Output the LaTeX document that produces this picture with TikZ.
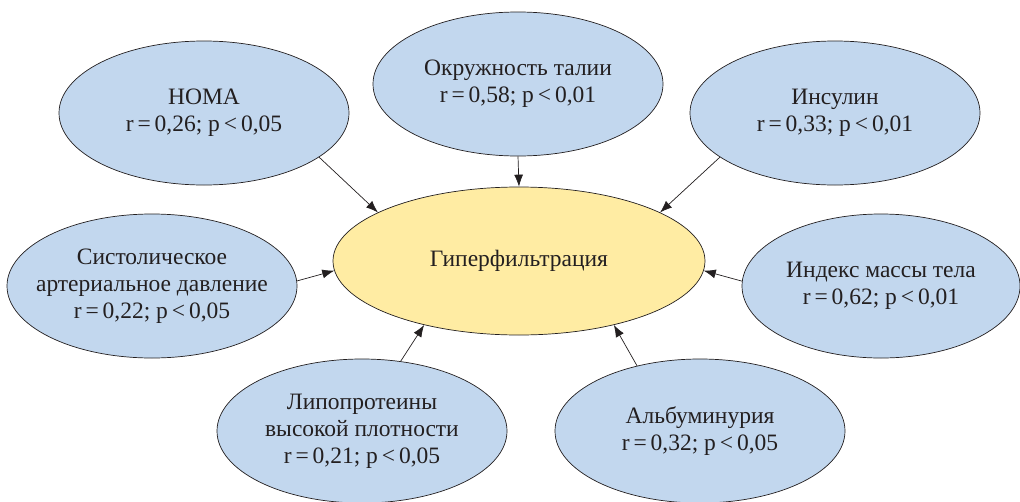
\documentclass[tikz,border=0pt]{standalone}
\usepackage{fontspec}
\setmainfont{Liberation Serif}
\usetikzlibrary{shapes.geometric,arrows.meta}
\definecolor{bluefill}{HTML}{C2D7EE}
\definecolor{yellowfill}{HTML}{FFECA3}
\definecolor{inkc}{HTML}{231F20}
\tikzset{
  factor/.style={ellipse, draw=inkc, line width=0.7pt, fill=bluefill, inner sep=0pt,
    minimum width=290pt, minimum height=144pt, align=center, text=inkc,
    font=\fontsize{23.5}{27}\selectfont},
  hub/.style={factor, fill=yellowfill, minimum width=372pt, minimum height=148pt},
  link/.style={draw=inkc, line width=0.7pt, -{Latex[length=12pt,width=9pt]}}
}
\newcommand{\rp}[2]{r\,=\,#1; p\,<\,#2}
\begin{document}
\begin{tikzpicture}[x=1pt,y=-1pt]
\useasboundingbox (0,0) rectangle (1020,501);
\clip (0,0) rectangle (1020,501);
\node[hub] (hyp) at (519,261) {Гиперфильтрация};
\node[factor] (homa) at (204,113) {HOMA\\\rp{0,26}{0,05}};
\node[factor] (waist) at (518,84) {Окружность талии\\\rp{0,58}{0,01}};
\node[factor] (ins) at (835,113) {Инсулин\\\rp{0,33}{0,01}};
\node[factor, inner xsep=-25pt] (sys) at (152,286) {Систолическое\\артериальное давление\\\rp{0,22}{0,05}};
\node[factor, minimum width=278pt] (bmi) at (881,286) {Индекс массы тела\\\rp{0,62}{0,01}};
\node[factor, inner xsep=-10pt] (hdl) at (362,431) {Липопротеины\\высокой плотности\\\rp{0,21}{0,05}};
\node[factor] (alb) at (700,431) {Альбуминурия\\\rp{0,32}{0,05}};
\draw[link] (homa.-21) -- (hyp.161);
\draw[link] (waist.south) -- (hyp.north);
\draw[link] (ins.-159) -- (hyp.19);
\draw[link] (sys.2) -- (hyp.183);
\draw[link] (bmi.178) -- (hyp.-3);
\draw[link] (hdl.61) -- (hyp.-146);
\draw[link] (alb.134) -- (hyp.-34);
\end{tikzpicture}
\end{document}
